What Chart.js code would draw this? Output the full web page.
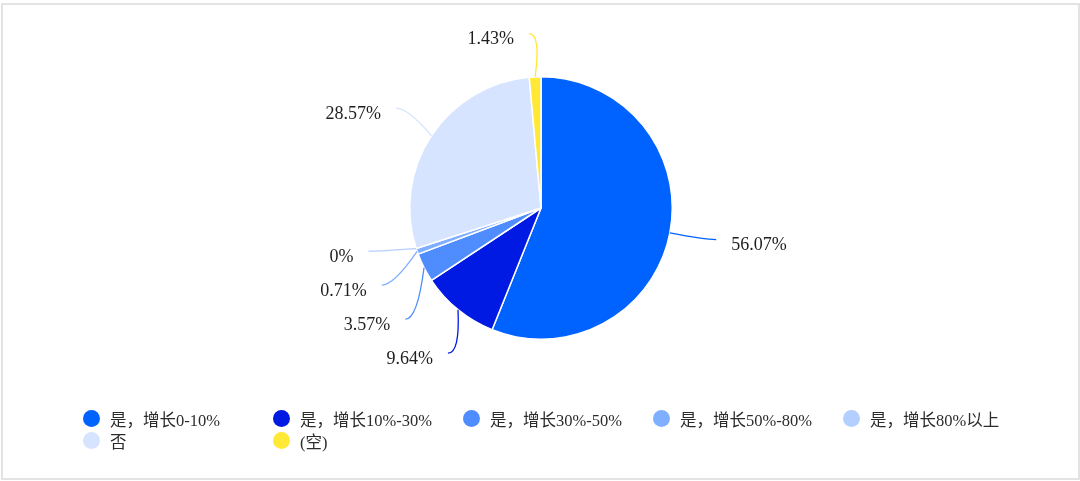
<!DOCTYPE html>
<html>
<head>
<meta charset="utf-8">
<script src="https://cdn.jsdelivr.net/npm/chart.js@4/dist/chart.umd.min.js"></script>
<style>
  html, body { margin: 0; padding: 0; background: #fff; }
  #wrap { position: relative; width: 1080px; height: 481px; }
  #frame { position: absolute; left: 1px; top: 3px; width: 1075px; height: 473px; border: 2px solid #e3e3e3; box-sizing: content-box; pointer-events: none; }
  #legenda { position: absolute; left: 83px; top: 408px; width: 980px; display: grid; grid-template-columns: repeat(5, 190px); row-gap: 1px;
    font-family: "Liberation Serif", "Noto Sans CJK SC", serif; font-size: 16.5px; color: #2b2b2b; }
  #legenda div { display: flex; align-items: center; height: 21px; white-space: nowrap; }
  #legenda span.dot { width: 17px; height: 17px; border-radius: 50%; margin-right: 10px; flex: none; }
</style>
</head>
<body>
<div id="wrap">
  <canvas id="myChart" width="1080" height="481"></canvas>
  <div id="legenda"></div>
  <div id="frame"></div>
</div>
<script>
const categorias = ['是，增长0-10%', '是，增长10%-30%', '是，增长30%-50%', '是，增长50%-80%', '是，增长80%以上', '否', '(空)'];
const porcentajes = [56.07, 9.64, 3.57, 0.71, 0, 28.57, 1.43];
const etiquetas = ['56.07%', '9.64%', '3.57%', '0.71%', '0%', '28.57%', '1.43%'];
const colores = ['#0062ff', '#0019e3', '#4f8dff', '#80afff', '#b3cfff', '#d6e4ff', '#ffe836'];

// leyenda en html, 5 columnas
const leyenda = document.getElementById('legenda');
categorias.forEach((cat, i) => {
  let item = document.createElement('div');
  item.innerHTML = '<span class="dot" style="background:' + colores[i] + '"></span>' + cat;
  leyenda.appendChild(item);
});

// etiquetas con linea guia, parecido al layout de echarts
const etiquetasPie = {
  id: 'etiquetasPie',
  afterDatasetsDraw(chart) {
    const ctx = chart.ctx;
    const arcos = chart.getDatasetMeta(0).data;
    const L1 = 35, L2 = 12, alto = 34;
    let lados = { izq: [], der: [] };
    arcos.forEach((arc, i) => {
      const p = arc.getProps(['x', 'y', 'startAngle', 'endAngle', 'outerRadius'], true);
      const mid = (p.startAngle + p.endAngle) / 2;
      const r = p.outerRadius;
      const item = {
        i: i, cx: p.x, cy: p.y, r: r,
        sx: p.x + Math.cos(mid) * r, sy: p.y + Math.sin(mid) * r,
        ex: p.x + Math.cos(mid) * (r + L1), ey: p.y + Math.sin(mid) * (r + L1),
        dir: Math.cos(mid) >= 0 ? 1 : -1
      };
      (item.dir > 0 ? lados.der : lados.izq).push(item);
    });
    Object.values(lados).forEach((lista) => {
      if (!lista.length) return;
      lista.sort((a, b) => a.ey - b.ey);
      let total = 0, ultimo = -Infinity;
      lista.forEach((it) => {
        if (it.ey - ultimo < alto) {
          total += ultimo + alto - it.ey;
          it.ey = ultimo + alto;
        }
        ultimo = it.ey;
      });
      if (total > 0) {
        lista.forEach((it) => { it.ey -= total / lista.length / 2; });
        lista.forEach((it) => {
          const rA = it.r + L1;
          const dy = Math.min(Math.abs(it.ey - it.cy), rA);
          it.ex = it.cx + it.dir * Math.sqrt(rA * rA - dy * dy);
        });
      }
      lista.forEach((it) => {
        const fx = it.ex + it.dir * L2;
        ctx.save();
        ctx.strokeStyle = colores[it.i];
        ctx.lineWidth = 1.3;
        ctx.beginPath();
        ctx.moveTo(it.sx, it.sy);
        ctx.quadraticCurveTo(it.ex, it.ey, fx, it.ey);
        ctx.stroke();
        ctx.fillStyle = '#1e1e1e';
        ctx.font = '18px "Liberation Serif", serif';
        ctx.textBaseline = 'middle';
        ctx.textAlign = it.dir > 0 ? 'left' : 'right';
        ctx.fillText(etiquetas[it.i], fx + it.dir * 15, it.ey + 6);
        ctx.restore();
      });
    });
  }
};

const data = {
  labels: categorias,
  datasets: [{
    data: porcentajes,
    backgroundColor: colores,
    borderColor: '#ffffff',
    borderWidth: 1.5
  }]
};

const config = {
  type: 'pie',
  data: data,
  options: {
    responsive: false,
    animation: false,
    layout: { padding: { top: 76, bottom: 141, left: 2, right: 0 } },
    plugins: {
      legend: { display: false },
      tooltip: { enabled: false }
    }
  },
  plugins: [etiquetasPie]
};

const myChart = new Chart(document.getElementById('myChart'), config);
</script>
</body>
</html>
